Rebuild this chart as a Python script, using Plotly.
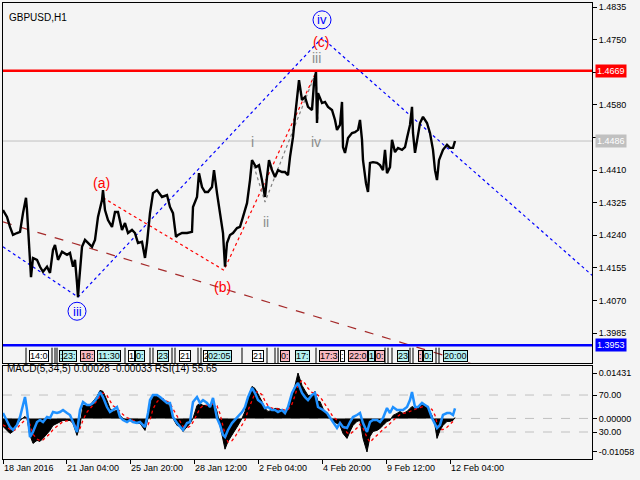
import plotly.graph_objects as go

# ---- price path (bar index, close) ----
price_bars = [1, 5, 8, 11, 15, 18, 21, 24, 25, 27, 29, 31, 35, 38, 41, 45, 48, 51, 53, 56,
              60, 65, 68, 71, 73, 75, 76, 77, 80, 83, 86, 90, 93, 96, 100, 101, 103, 106, 110, 113,
              116, 120, 123, 126, 130, 133, 136, 140, 143, 145, 148, 151, 155, 160, 165, 168, 171, 174, 176, 180,
              185, 190, 191, 195, 197, 200, 203, 206, 210, 212, 215, 218, 221, 223, 225, 228, 231, 235, 238, 241,
              245, 248, 250, 254, 257, 260, 263, 265, 267, 270, 273, 276, 280, 283, 286, 288, 291, 293, 295, 297,
              300, 303, 306, 310, 312, 314, 315, 316, 320, 323, 326, 330, 333, 335, 338, 340, 341, 343, 346, 350,
              353, 356, 358, 360, 361, 364, 366, 368, 371, 375, 378, 381, 383, 385, 388, 390, 393, 396, 400, 403,
              405, 408, 410, 411, 413, 415, 418, 421, 425, 428, 431, 433, 435, 437, 441, 445, 448, 451, 453]
price_vals = [1.4306, 1.4288, 1.4262, 1.4241, 1.4246, 1.4249, 1.4298, 1.4338, 1.4306, 1.4220,
              1.4131, 1.4181, 1.4176, 1.4158, 1.4145, 1.4158, 1.4142, 1.4202, 1.4215, 1.4176,
              1.4197, 1.4189, 1.4194, 1.4158, 1.4176, 1.4116, 1.4079, 1.4116, 1.4210, 1.4228,
              1.4220, 1.4210, 1.4228, 1.4288, 1.4332, 1.4358, 1.4306, 1.4280, 1.4262, 1.4301,
              1.4301, 1.4254, 1.4272, 1.4246, 1.4254, 1.4246, 1.4220, 1.4223, 1.4181, 1.4220,
              1.4298, 1.4350, 1.4358, 1.4340, 1.4345, 1.4314, 1.4298, 1.4236, 1.4241, 1.4246,
              1.4246, 1.4249, 1.4314, 1.4340, 1.4402, 1.4366, 1.4353, 1.4353, 1.4366, 1.4410,
              1.4350, 1.4298, 1.4246, 1.4158, 1.4220, 1.4241, 1.4246, 1.4259, 1.4262, 1.4288,
              1.4324, 1.4384, 1.4436, 1.4418, 1.4423, 1.4384, 1.4340, 1.4392, 1.4436, 1.4410,
              1.4392, 1.4410, 1.4405, 1.4405, 1.4397, 1.4444, 1.4496, 1.4549, 1.4601, 1.4645,
              1.4593, 1.4601, 1.4575, 1.4567, 1.4637, 1.4666, 1.4533, 1.4611, 1.4585, 1.4588,
              1.4575, 1.4567, 1.4541, 1.4515, 1.4528, 1.4588, 1.4470, 1.4455, 1.4494, 1.4507,
              1.4509, 1.4515, 1.4541, 1.4489, 1.4436, 1.4376, 1.4353, 1.4429, 1.4431, 1.4429,
              1.4423, 1.4410, 1.4463, 1.4402, 1.4418, 1.4489, 1.4457, 1.4468, 1.4463, 1.4470,
              1.4494, 1.4528, 1.4575, 1.4507, 1.4455, 1.4489, 1.4533, 1.4549, 1.4533, 1.4507,
              1.4463, 1.4410, 1.4384, 1.4436, 1.4463, 1.4476, 1.4468, 1.4468, 1.4486]

# ---- indicator window (MACD histogram, signal, RSI) ----
ind_bars = [1, 8, 11, 15, 18, 23, 25, 28, 31, 35,
            38, 41, 45, 48, 51, 55, 58, 61, 65, 68,
            71, 75, 78, 81, 85, 88, 91, 95, 98, 101,
            105, 108, 111, 115, 118, 121, 125, 128, 131, 135,
            138, 143, 146, 148, 151, 155, 158, 161, 165, 168,
            171, 175, 178, 181, 185, 188, 191, 195, 198, 201,
            205, 208, 211, 215, 218, 221, 223, 226, 230, 233,
            236, 240, 243, 246, 250, 253, 256, 260, 263, 266,
            270, 273, 276, 280, 283, 286, 290, 293, 296, 300,
            303, 306, 310, 313, 316, 318, 321, 325, 328, 331,
            335, 338, 341, 345, 348, 351, 355, 358, 361, 365,
            368, 371, 375, 378, 381, 385, 388, 391, 395, 398,
            401, 405, 408, 410, 413, 416, 420, 423, 426, 430,
            433, 435, 438, 441, 445, 448, 451, 453]
macd_main = [-0.00252, -0.00473, -0.00410, -0.00221, -0.00063, 0.00063, 0.0, -0.00536, -0.00788, -0.00693,
             -0.00725, -0.00630, -0.00473, -0.00378, -0.00221, -0.00158, -0.00095, -0.00063, -0.00063, -0.00063,
             -0.00158, -0.00536, -0.00221, 0.00410, 0.00410, 0.00410, 0.00536, 0.00693, 0.00882, 0.00851,
             0.00567, 0.00315, 0.00221, 0.00252, 0.00095, 0.0, -0.00063, -0.00063, -0.00095, -0.00158,
             -0.00158, -0.00378, 0.0, 0.00378, 0.00725, 0.00693, 0.00630, 0.00567, 0.00473, 0.00378,
             0.0, -0.00221, -0.00252, -0.00410, -0.00252, -0.00158, 0.0, 0.00410, 0.00473, 0.00410,
             0.00410, 0.00410, 0.00536, 0.00221, -0.00221, -0.00630, -0.00970, -0.00725, -0.00536, -0.00378,
             -0.00221, 0.0, 0.00221, 0.00630, 0.01008, 0.00945, 0.00788, 0.00536, 0.00315, 0.00221,
             0.00252, 0.00315, 0.00315, 0.00252, 0.00221, 0.00315, 0.00725, 0.01040, 0.01431, 0.01040,
             0.00882, 0.00725, 0.00725, 0.00851, 0.00536, 0.00536, 0.00315, 0.00095, 0.0, -0.00095,
             -0.00158, -0.00221, -0.00473, -0.00630, -0.00410, -0.00221, -0.00095, -0.00063, -0.00630, -0.01058,
             -0.00567, -0.00410, -0.00378, -0.00315, -0.00221, -0.00095, -0.00063, 0.00095, 0.00158, 0.00221,
             0.00158, 0.00221, 0.00315, 0.00378, 0.00315, 0.00378, 0.00410, 0.00410, 0.00315, 0.00095,
             -0.00221, -0.00630, -0.00378, -0.00221, -0.00095, -0.00095, -0.00063, 0.00028]
macd_signal = [-0.0020, -0.0035, -0.0040, -0.0032, -0.0020, -0.0005, 0.0000, -0.0020, -0.0050, -0.0065,
               -0.0070, -0.0068, -0.0058, -0.0048, -0.0035, -0.0025, -0.0016, -0.0010, -0.0008, -0.0007,
               -0.0010, -0.0030, -0.0032, -0.0005, 0.0020, 0.0032, 0.0042, 0.0055, 0.0070, 0.0080,
               0.0072, 0.0055, 0.0040, 0.0032, 0.0022, 0.0012, 0.0003, -0.0002, -0.0006, -0.0010,
               -0.0013, -0.0025, -0.0020, -0.0005, 0.0030, 0.0052, 0.0062, 0.0062, 0.0055, 0.0048,
               0.0030, 0.0008, -0.0008, -0.0025, -0.0030, -0.0025, -0.0012, 0.0015, 0.0032, 0.0040,
               0.0042, 0.0042, 0.0046, 0.0040, 0.0015, -0.0025, -0.0050, -0.0075, -0.0070, -0.0058,
               -0.0042, -0.0025, -0.0005, 0.0025, 0.0060, 0.0080, 0.0085, 0.0075, 0.0055, 0.0040,
               0.0032, 0.0030, 0.0030, 0.0029, 0.0026, 0.0027, 0.0045, 0.0072, 0.0105, 0.0120,
               0.0110, 0.0095, 0.0082, 0.0080, 0.0072, 0.0068, 0.0055, 0.0035, 0.0018, 0.0005,
               -0.0005, -0.0012, -0.0025, -0.0045, -0.0050, -0.0042, -0.0030, -0.0018, -0.0030, -0.0060,
               -0.0075, -0.0065, -0.0052, -0.0042, -0.0035, -0.0025, -0.0015, -0.0005, 0.0005, 0.0012,
               0.0016, 0.0018, 0.0022, 0.0027, 0.0030, 0.0033, 0.0036, 0.0039, 0.0038, 0.0028,
               0.0010, -0.0015, -0.0035, -0.0035, -0.0028, -0.0018, -0.0010, -0.00033]
rsi = [50.5, 35.4, 32.2, 37.6, 46.2, 67.8, 53.8, 24.6, 30.0, 40.8,
       43.0, 40.8, 46.2, 45.1, 51.6, 50.5, 51.6, 53.8, 50.5, 48.4,
       40.8, 30.0, 53.8, 62.4, 59.2, 59.2, 61.4, 66.8, 73.2, 67.8,
       57.0, 51.6, 53.8, 57.0, 46.2, 43.0, 40.8, 43.0, 40.8, 39.7,
       40.8, 35.4, 50.5, 64.6, 70.0, 70.0, 67.8, 64.6, 61.4, 61.4,
       46.2, 39.7, 35.4, 32.2, 39.7, 40.8, 62.4, 67.8, 61.4, 64.6,
       61.4, 57.0, 66.8, 45.1, 37.6, 26.8, 24.6, 32.2, 39.7, 43.0,
       46.2, 51.6, 57.0, 67.8, 77.6, 72.2, 64.6, 61.4, 55.9, 57.0,
       53.8, 53.8, 51.6, 53.8, 50.5, 57.0, 72.2, 78.6, 83.0, 72.2,
       67.8, 64.6, 70.0, 72.2, 57.0, 55.9, 53.8, 50.5, 45.1, 40.8,
       34.3, 39.7, 35.4, 34.3, 40.8, 46.2, 48.4, 50.5, 39.7, 30.0,
       40.8, 43.0, 43.0, 40.8, 45.1, 55.9, 50.5, 57.0, 53.8, 53.8,
       53.8, 57.0, 64.6, 73.2, 57.0, 57.0, 61.4, 59.2, 57.0, 45.1,
       37.6, 34.3, 37.6, 48.4, 50.5, 50.5, 48.4, 55.65]

# ---- levels and wave markup ----
resistance = 1.4669
support = 1.3953
bid = 1.4486

wave_blue_x = [1, 76, 320, 590]
wave_blue_y = [1.4210, 1.4079, 1.4755, 1.4136]
wave_red_x = [101, 222, 314]
wave_red_y = [1.4338, 1.4149, 1.4666]
wave_brown_x = [1, 590]
wave_brown_y = [1.4275, 1.3810]
wave_gray_x = [250, 263, 314, 316]
wave_gray_y = [1.4436, 1.4327, 1.4666, 1.4536]

label_text = ["(a)", "(b)", "(c)", "i", "ii", "iii", "iv", "iv", "iii"]
label_bar = [99, 220, 319, 250, 264, 314, 314, 320, 75]
label_price = [1.4376, 1.4105, 1.4744, 1.4483, 1.4275, 1.4703, 1.4483, 1.4802, 1.4042]
label_color = ["red", "red", "red", "#8c8c8c", "#8c8c8c", "#8c8c8c", "#8c8c8c", "blue", "blue"]
circled = [False, False, False, False, False, False, False, True, True]

price_ticks = [1.3985, 1.4070, 1.4155, 1.4240, 1.4325, 1.4410, 1.4495, 1.4580, 1.4665, 1.4750, 1.4835]
# 1.4495 and 1.4665 sit under the bid / resistance price boxes
price_ticktext = ["1.3985", "1.4070", "1.4155", "1.4240", "1.4325", "1.4410", "",
                  "1.4580", "", "1.4750", "1.4835"]

time_ticks = [1, 64, 128, 192, 256, 320, 384, 448]
time_labels = ["18 Jan 2016", "21 Jan 04:00", "25 Jan 20:00", "28 Jan 12:00",
               "2 Feb 04:00", "4 Feb 20:00", "9 Feb 12:00", "12 Feb 04:00"]

# event strip along the bottom of the price window
event_bar = [27, 57, 60, 78, 95, 126, 133, 155, 177, 201, 205, 250, 278, 293, 317, 338, 346, 366, 373, 395, 416, 421, 441]
event_text = ["14:0", ":", "23:", "18:", "11:30", "1", "0:", "23", "21", "2", "02:05", "21", "0:", "17:",
              "17:3", ":", "22:0", "1", "0:", "23", ":", "0:", "20:00"]
event_kind = ["w", "c", "c", "p", "c", "w", "c", "c", "w", "w", "c", "w", "p", "c",
              "p", "w", "p", "c", "p", "c", "p", "c", "c"]
event_ticks = [24, 50, 53, 55, 123, 148, 151, 170, 173, 196, 199, 240, 265, 273, 276, 314,
               383, 386, 390, 408, 411, 434, 437]
event_price = 1.3925

BG = "#f4f4f4"
FONT = "Liberation Sans"
X_DOM = [3 / 640, 592 / 640]

fig = go.Figure()

fig.add_trace(go.Scatter(x=wave_brown_x, y=wave_brown_y, mode="lines",
                         line=dict(color="#a52a2a", width=1.2, dash="dash")))
fig.add_trace(go.Scatter(x=wave_blue_x, y=wave_blue_y, mode="lines",
                         line=dict(color="#0000ff", width=1.2, dash="dot")))
fig.add_trace(go.Scatter(x=wave_red_x, y=wave_red_y, mode="lines",
                         line=dict(color="#ff0000", width=1.2, dash="dot")))
fig.add_trace(go.Scatter(x=wave_gray_x, y=wave_gray_y, mode="lines",
                         line=dict(color="#808080", width=1.2, dash="dot")))
fig.add_trace(go.Scatter(x=price_bars, y=price_vals, mode="lines",
                         line=dict(color="black", width=2.4)))
fig.add_trace(go.Scatter(x=event_ticks, y=[event_price] * len(event_ticks), mode="markers",
                         marker=dict(symbol="line-ns", size=12, line=dict(color="black", width=1))))

# indicator window
fig.add_trace(go.Scatter(x=ind_bars, y=macd_main, mode="lines", fill="tozeroy",
                         fillcolor="black", line=dict(color="black", width=1),
                         xaxis="x2", yaxis="y2"))
fig.add_trace(go.Scatter(x=ind_bars, y=macd_signal, mode="lines",
                         line=dict(color="red", width=1.3, dash="dot"),
                         xaxis="x2", yaxis="y2"))
fig.add_trace(go.Scatter(x=ind_bars, y=rsi, mode="lines",
                         line=dict(color="#1e90ff", width=2.5),
                         xaxis="x2", yaxis="y3"))

shapes = [
    dict(type="line", xref="x domain", x0=0, x1=1, yref="y", y0=bid, y1=bid,
         line=dict(color="#c0c0c0", width=1), layer="below"),
    dict(type="line", xref="x domain", x0=0, x1=1, yref="y", y0=resistance, y1=resistance,
         line=dict(color="#ff0000", width=2.5)),
    dict(type="line", xref="x domain", x0=0, x1=1, yref="y", y0=support, y1=support,
         line=dict(color="#0000ff", width=2.5)),
    dict(type="line", xref="x2 domain", x0=0, x1=1, yref="y3", y0=70, y1=70,
         line=dict(color="#c0c0c0", width=1, dash="dash"), layer="below"),
    dict(type="line", xref="x2 domain", x0=0, x1=1, yref="y3", y0=30, y1=30,
         line=dict(color="#c0c0c0", width=1, dash="dash"), layer="below"),
    dict(type="line", xref="x2 domain", x0=0, x1=1, yref="y2", y0=0, y1=0,
         line=dict(color="#c0c0c0", width=1, dash="dash"), layer="below"),
]

annotations = []
for t, b, p, c, circ in zip(label_text, label_bar, label_price, label_color, circled):
    annotations.append(dict(x=b, y=p, xref="x", yref="y", text=t, showarrow=False,
                            font=dict(family=FONT, size=14 if not circ else 13, color=c)))
    if circ:
        shapes.append(dict(type="circle", xref="x", yref="y", xsizemode="pixel", ysizemode="pixel",
                           xanchor=b, yanchor=p, x0=-9, x1=9, y0=-9, y1=9,
                           line=dict(color="blue", width=1)))

for val, bg in [(resistance, "#ff0000"), (bid, "#c0c0c0"), (support, "#0000ff")]:
    annotations.append(dict(x=595 / 640, xref="paper", xanchor="left", y=val, yref="y",
                            text=f"{val:.4f}", showarrow=False, bgcolor=bg, borderpad=1,
                            font=dict(family=FONT, size=9, color="white")))

kind_colors = {"w": "white", "c": "#b4f0f0", "p": "#f8b8c0"}
for b, t, k in zip(event_bar, event_text, event_kind):
    annotations.append(dict(x=b, y=event_price, xref="x", yref="y", xanchor="left",
                            text=t, showarrow=False, bgcolor=kind_colors[k],
                            bordercolor="black", borderwidth=1, borderpad=0,
                            font=dict(family=FONT, size=9, color="black")))

annotations.append(dict(x=7 / 640, y=1 - 10 / 480, xref="paper", yref="paper", xanchor="left",
                        text="GBPUSD,H1", showarrow=False,
                        font=dict(family=FONT, size=10, color="black")))
annotations.append(dict(x=5 / 640, y=1 - 376 / 480, xref="paper", yref="paper", xanchor="left",
                        text="MACD(5,34,5) 0.00028 -0.00033 RSI(14) 55.65", showarrow=False,
                        font=dict(family=FONT, size=10, color="black")))

axis_common = dict(showgrid=False, zeroline=False, showline=True, linecolor="black",
                   linewidth=1, mirror=True, tickfont=dict(family=FONT, size=9, color="black"))

fig.update_layout(
    width=640, height=480,
    margin=dict(l=0, r=0, t=0, b=0),
    paper_bgcolor=BG, plot_bgcolor=BG,
    showlegend=False,
    font=dict(family=FONT, size=10, color="black"),
    xaxis=dict(domain=X_DOM, range=[1, 590], anchor="y", showticklabels=False, ticks="",
               **axis_common),
    yaxis=dict(domain=[1 - 363 / 480, 1 - 3 / 480], range=[1.3907, 1.4846], anchor="x",
               side="right", tickvals=price_ticks, ticktext=price_ticktext,
               ticks="outside", ticklen=4, tickcolor="black", **axis_common),
    xaxis2=dict(domain=X_DOM, range=[1, 590], anchor="y2", tickvals=time_ticks,
                ticktext=time_labels, ticks="outside", ticklen=4, tickcolor="black",
                tickangle=0, ticklabelposition="outside right", **axis_common),
    yaxis2=dict(domain=[1 - 459 / 480, 1 - 366 / 480], range=[-0.01279, 0.01652], anchor="x2",
                side="right", tickvals=[0.01431, 0.0, -0.01058],
                ticktext=["0.01431", "0.00000", "-0.01058"],
                ticks="outside", ticklen=4, tickcolor="black", **axis_common),
    yaxis3=dict(range=[0.8, 101.4], overlaying="y2", anchor="x2", side="right",
                tickvals=[70, 30], ticktext=["70.00", "30.00"], showgrid=False, zeroline=False,
                ticks="outside", ticklen=4, tickcolor="black",
                tickfont=dict(family=FONT, size=9, color="black")),
    shapes=shapes,
    annotations=annotations,
)

fig.write_html("out.html", config={"displayModeBar": False},
               post_script="document.body.style.margin='0';")
